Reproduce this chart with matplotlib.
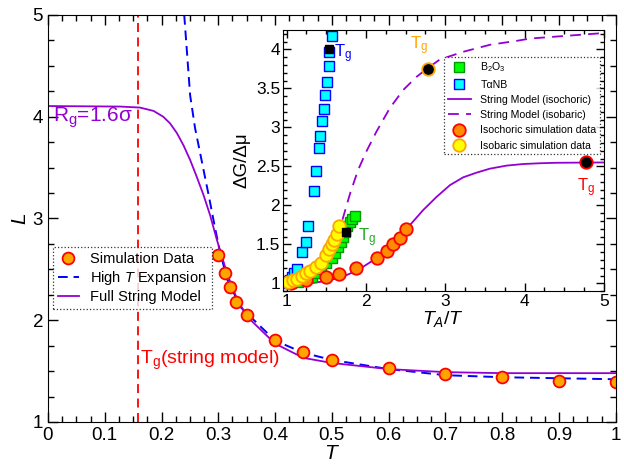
import numpy as np
import matplotlib
matplotlib.use('Agg')
import matplotlib.pyplot as plt
from matplotlib.ticker import MultipleLocator, FuncFormatter

plt.rcParams['font.family'] = ['Liberation Sans', 'DejaVu Sans']
plt.rcParams['mathtext.fontset'] = 'custom'
plt.rcParams['mathtext.rm'] = 'Liberation Sans'
plt.rcParams['mathtext.it'] = 'Liberation Sans:italic'

# main panel: string length L vs T
sim_T = [0.30, 0.312, 0.321, 0.331, 0.351, 0.40, 0.45, 0.50, 0.60, 0.70, 0.80, 0.90, 1.00]
sim_L = [2.64, 2.46, 2.33, 2.18, 2.05, 1.81, 1.69, 1.61, 1.53, 1.47, 1.44, 1.40, 1.39]

hiT_T = [0.240, 0.2504, 0.259, 0.271, 0.283, 0.2945, 0.303, 0.316, 0.339, 0.40, 0.45, 0.50, 0.60, 0.70, 0.80, 0.90, 1.00]
hiT_L = [5.00, 4.21, 3.89, 3.56, 3.23, 2.90, 2.67, 2.40, 2.13, 1.80, 1.68, 1.61, 1.52, 1.46, 1.44, 1.43, 1.42]

str_T = [0.0, 0.127, 0.162, 0.186, 0.203, 0.215, 0.227, 0.2386, 0.2504, 0.262, 0.274, 0.2857, 0.2975,
         0.316, 0.333, 0.35, 0.40, 0.45, 0.50, 0.60, 0.70, 0.80, 1.00]
str_L = [4.105, 4.10, 4.09, 4.057, 4.00, 3.935, 3.84, 3.72, 3.575, 3.41, 3.23, 3.03, 2.79,
         2.45, 2.21, 2.04, 1.77, 1.63, 1.58, 1.52, 1.49, 1.48, 1.48]

Tg_string = 0.159

# inset: dG/dmu vs TA/T
b2o3_x = [1.06, 1.15, 1.23, 1.32, 1.38, 1.44, 1.50, 1.57, 1.61, 1.65, 1.68, 1.71, 1.74, 1.76, 1.80, 1.83, 1.86]
b2o3_y = [1.00, 1.02, 1.05, 1.085, 1.13, 1.18, 1.26, 1.33, 1.39, 1.47, 1.53, 1.60, 1.66, 1.73, 1.78, 1.82, 1.86]
b2o3_tg = (1.75, 1.66)

tanb_x = [1.00, 1.04, 1.07, 1.10, 1.13, 1.20, 1.24, 1.27, 1.34, 1.37, 1.41, 1.42, 1.45, 1.47, 1.49, 1.51, 1.53, 1.54, 1.57]
tanb_y = [1.00, 1.04, 1.085, 1.13, 1.18, 1.40, 1.53, 1.74, 2.18, 2.44, 2.74, 2.89, 3.08, 3.23, 3.41, 3.58, 3.79, 3.97, 4.17]
tanb_tg = (1.54, 4.01)

iso_v_x = [1.0, 1.3, 1.5, 1.7, 1.9, 2.1, 2.3, 2.555, 2.722, 2.892, 3.06, 3.227, 3.396, 3.56, 3.774,
           3.98, 4.194, 4.40, 4.99]
iso_v_y = [1.0, 1.0, 1.03, 1.08, 1.17, 1.30, 1.47, 1.747, 1.94, 2.11, 2.26, 2.36, 2.42, 2.47, 2.51,
           2.53, 2.54, 2.546, 2.55]

iso_p_x = [1.0, 1.2, 1.3, 1.4, 1.5, 1.6, 1.7, 1.8, 1.9, 2.0, 2.135, 2.303, 2.47, 2.64, 2.765, 2.93,
           3.227, 3.564, 3.90, 4.07, 4.99]
iso_p_y = [1.0, 1.06, 1.12, 1.2, 1.32, 1.50, 1.80, 2.15, 2.45, 2.68, 2.95, 3.25, 3.48, 3.65, 3.75, 3.87,
           3.97, 4.06, 4.11, 4.14, 4.21]

simv_x = [1.05, 1.25, 1.50, 1.66, 1.87, 2.14, 2.27, 2.34, 2.43, 2.50]
simv_y = [1.00, 1.04, 1.08, 1.115, 1.19, 1.33, 1.415, 1.50, 1.58, 1.70]
simv_tg = (4.77, 2.55)

simp_x = [1.02, 1.08, 1.13, 1.19, 1.24, 1.29, 1.37, 1.44, 1.50, 1.54, 1.57, 1.60, 1.63, 1.66]
simp_y = [1.02, 1.04, 1.06, 1.09, 1.13, 1.16, 1.21, 1.26, 1.36, 1.44, 1.50, 1.55, 1.63, 1.74]
simp_tg = (2.78, 3.75)

purple = '#9400D3'
orange = '#FFA500'

fig = plt.figure(figsize=(6.24, 4.68), dpi=100)
ax = fig.add_axes([0.0769, 0.0983, 0.9098, 0.8697])

ax.axvline(Tg_string, color='red', ls=(0, (5, 3)), lw=1.3)
ax.plot(hiT_T, hiT_L, color='blue', ls=(0, (5, 3)), lw=1.4, label='High $T$ Expansion')
ax.plot(str_T, str_L, color=purple, lw=1.3, label='Full String Model')
ax.plot(sim_T, sim_L, 'o', ms=8.5, mfc=orange, mec='red', mew=1.3, ls='none', label='Simulation Data')

ax.set_xlim(0, 1)
ax.set_ylim(1, 5)
ax.xaxis.set_major_locator(MultipleLocator(0.1))
ax.xaxis.set_minor_locator(MultipleLocator(0.025))
ax.yaxis.set_major_locator(MultipleLocator(1))
ax.yaxis.set_minor_locator(MultipleLocator(0.25))
ax.xaxis.set_major_formatter(FuncFormatter(lambda v, p: ('%g' % round(v, 2))))
ax.tick_params(which='both', direction='in', top=True, right=True, labelsize=13.5)
ax.tick_params(which='major', length=7, width=1)
ax.tick_params(which='minor', length=4, width=1)
ax.set_xlabel('$T$', fontsize=15, labelpad=0)
ax.set_ylabel('$L$', fontsize=15, labelpad=2)

ax.text(0.009, 3.99, 'R$_\\mathrm{g}$=1.6σ', color=purple, fontsize=15, va='center', ha='left')
ax.text(0.162, 1.61, 'T$_\\mathrm{g}$(string model)', color='red', fontsize=14, va='center', ha='left')

h, l = ax.get_legend_handles_labels()
order = [2, 0, 1]
leg = ax.legend([h[i] for i in order], [l[i] for i in order], loc='upper left',
                bbox_to_anchor=(0.009, 0.43), borderaxespad=0, fontsize=10.5,
                fancybox=False, handlelength=1.4, handletextpad=0.8,
                borderpad=0.35, labelspacing=0.2)
leg.get_frame().set_edgecolor('black')
leg.get_frame().set_linestyle(':')
leg.get_frame().set_linewidth(0.9)

# inset
ins = fig.add_axes([0.4535, 0.378, 0.5144, 0.558])
ins.plot(iso_v_x, iso_v_y, color=purple, lw=1.3, label='String Model (isochoric)')
ins.plot(iso_p_x, iso_p_y, color=purple, ls=(0, (6, 4)), lw=1.3, label='String Model (isobaric)')
ins.plot(b2o3_x, b2o3_y, 's', ms=6.5, mfc='#00FF00', mec='#009900', mew=1, ls='none', label='B$_2$O$_3$')
ins.plot(tanb_x, tanb_y, 's', ms=6.5, mfc='#00FFFF', mec='blue', mew=1, ls='none', label='TαNB')
ins.plot(simv_x, simv_y, 'o', ms=9, mfc='#FF8C00', mec='red', mew=1.3, ls='none', label='Isochoric simulation data')
ins.plot(simp_x, simp_y, 'o', ms=9, mfc='#FFFF00', mec=orange, mew=1.3, ls='none', label='Isobaric simulation data')

ins.plot(*b2o3_tg, 's', ms=6, mfc='black', mec='black')
ins.plot(*tanb_tg, 's', ms=6, mfc='black', mec='black')
ins.plot(*simv_tg, 'o', ms=9, mfc='black', mec='red', mew=1.3)
ins.plot(*simp_tg, 'o', ms=9, mfc='black', mec=orange, mew=1.3)

ins.text(1.60, 3.95, 'T$_\\mathrm{g}$', color='blue', fontsize=12, va='center')
ins.text(2.55, 4.05, 'T$_\\mathrm{g}$', color=orange, fontsize=12, va='center')
ins.text(1.90, 1.58, 'T$_\\mathrm{g}$', color='#22AA22', fontsize=12, va='center')
ins.text(4.66, 2.22, 'T$_\\mathrm{g}$', color='red', fontsize=12, va='center')

ins.set_xlim(0.955, 5)
ins.set_ylim(0.9, 4.25)
ins.xaxis.set_major_locator(MultipleLocator(1))
ins.xaxis.set_minor_locator(MultipleLocator(0.25))
ins.yaxis.set_major_locator(MultipleLocator(0.5))
ins.yaxis.set_minor_locator(MultipleLocator(0.1))
ins.yaxis.set_major_formatter(FuncFormatter(lambda v, p: ('%g' % round(v, 2))))
ins.tick_params(which='both', direction='in', top=True, right=True, labelsize=12.5, pad=2)
ins.tick_params(which='major', length=6, width=1)
ins.tick_params(which='minor', length=3, width=1)
ins.set_xlabel('$T_A/T$', fontsize=14, labelpad=0)
ins.set_ylabel('ΔG/Δμ', fontsize=13.5, labelpad=4)

h2, l2 = ins.get_legend_handles_labels()
order2 = [2, 3, 0, 1, 4, 5]
leg2 = ins.legend([h2[i] for i in order2], [l2[i] for i in order2], loc='upper right',
                  bbox_to_anchor=(0.988, 0.897), borderaxespad=0, fontsize=7.6,
                  fancybox=False, handlelength=2.2, handletextpad=0.9,
                  borderpad=0.35, labelspacing=0.5)
leg2.get_frame().set_edgecolor('black')
leg2.get_frame().set_linestyle(':')
leg2.get_frame().set_linewidth(0.9)

fig.savefig('out.png', dpi=100)
